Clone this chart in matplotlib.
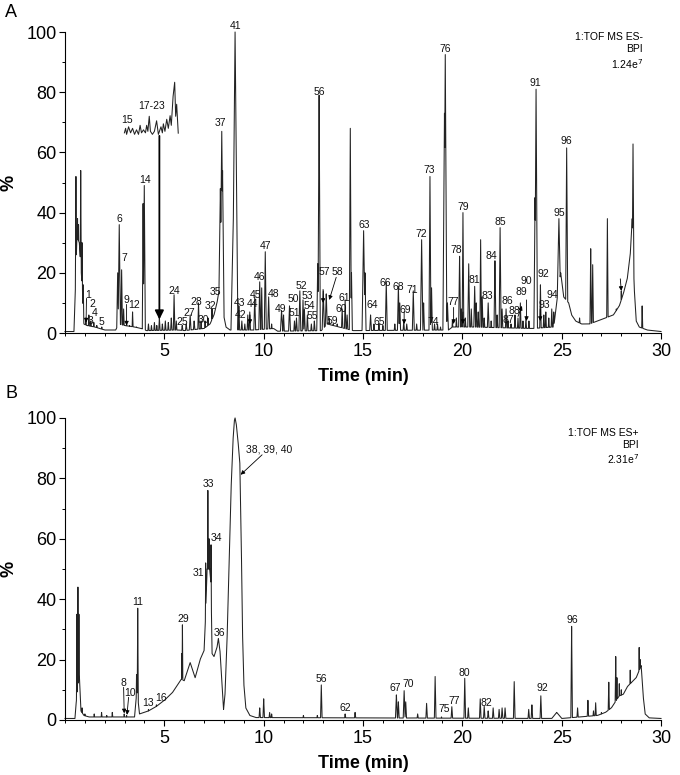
import numpy as np
import matplotlib
matplotlib.use('Agg')
import matplotlib.pyplot as plt
from matplotlib.ticker import MultipleLocator

plt.rcParams['font.family'] = ['Liberation Sans', 'DejaVu Sans']

# ---------------- panel A (ES-) ----------------
# slow background / broad features of the trace
base_t_a = [0, 0.45, 0.5, 0.6, 0.72, 0.88, 0.95, 1.1, 1.5, 2.0,
            2.55, 2.7, 3.0, 3.5, 3.85, 4.1, 5.7, 6.0, 7.0, 7.3,
            7.5, 7.65, 7.75, 8.1, 8.3, 8.8, 9.5, 10.5, 10.7, 12.9,
            13.2, 14.5, 19.3, 19.5, 20.5, 23.5, 24.6, 24.75, 24.95, 25.1,
            25.35, 25.5, 25.7, 26.0, 26.4, 26.8, 27.2, 27.6, 27.9, 28.1,
            28.3, 28.45, 28.55, 28.65, 28.75, 28.9, 29.3, 30]
base_h_a = [0.5, 0.5, 10, 32, 30, 14, 3, 2.5, 2, 1,
            1, 3, 2.5, 2, 1.5, 0.8, 1, 0.8, 1.5, 3,
            6, 10, 14, 2, 1, 1, 1, 1.5, 0.6, 0.8,
            3, 0.8, 1, 2, 2, 1.5, 2, 10, 20, 12,
            10, 6, 4, 3, 3, 4, 5, 6, 9, 13,
            18, 26, 38, 15, 4, 2, 1, 0.5]

# peaks: retention time (min), height (%), half width (min)
peak_t_a = [0.55, 0.63, 0.68, 0.79, 0.86, 0.92, 1.05, 1.2, 1.3, 1.45,
            1.6, 1.85, 2.65, 2.73, 2.85, 2.95, 3.1, 3.25, 3.4, 3.6,
            3.93, 3.99, 4.2, 4.35, 4.5, 4.62, 4.75, 4.9, 5.05, 5.2,
            5.35, 5.49, 5.6, 5.9, 6.1, 6.3, 6.5, 6.72, 6.85, 7.05,
            7.2, 7.4, 7.82, 7.89, 7.93, 8.5, 8.56, 8.75, 8.9, 9.05,
            9.2, 9.3, 9.55, 9.8, 9.9, 10.08, 10.25, 10.4, 10.9, 11.0,
            11.3, 11.55, 11.65, 11.82, 11.98, 12.05, 12.2, 12.4, 12.55, 12.72,
            12.79, 13.0, 13.15, 13.3, 13.5, 13.7, 13.95, 14.1, 14.2, 14.36,
            14.42, 15.03, 15.1, 15.38, 15.55, 15.8, 16.0, 16.17, 16.6, 16.78,
            16.85, 17.05, 17.2, 17.53, 17.7, 17.95, 18.05, 18.37, 18.45, 18.6,
            18.75, 18.9, 19.1, 19.14, 19.25, 19.5, 19.7, 19.86, 19.95, 20.03,
            20.15, 20.32, 20.45, 20.62, 20.7, 20.8, 20.92, 21.0, 21.1, 21.3,
            21.45, 21.64, 21.75, 21.9, 22.0, 22.2, 22.3, 22.45, 22.65, 22.8,
            22.92, 23.05, 23.2, 23.35, 23.66, 23.71, 23.93, 24.1, 24.2, 24.35,
            24.5, 24.6, 24.86, 25.25, 25.9, 26.46, 26.56, 27.3, 27.75, 28.0,
            28.59, 29.05]
peak_h_a = [52, 38, 36, 54, 30, 16, 5, 6, 4, 3.5,
            2.5, 2, 20, 36, 21, 8, 3, 2.5, 7, 2,
            43, 49, 3, 2.5, 3.5, 2.5, 5, 3, 4, 3.5,
            5, 12.7, 4, 2.5, 3, 6, 4, 10, 4, 4,
            5, 8, 48, 67, 54, 45, 100, 9, 4, 3,
            6, 7, 12, 17, 15, 27, 12, 3, 7.5, 6,
            9, 4, 5, 14, 11, 8, 6, 3, 4, 23,
            79, 14, 13, 5, 3, 3, 8, 11, 6, 68,
            20, 34, 20, 6, 3, 3, 2.5, 17, 3, 15.6,
            10, 4, 3, 14, 3, 31, 10, 52, 15, 3,
            3, 2, 73, 92.5, 10, 4, 5, 25.5, 8, 40,
            5, 23, 8, 15.5, 10, 7, 31, 12, 5, 10,
            4, 24, 6, 35, 8, 8, 4, 3, 6, 5,
            10, 4, 5, 4, 45, 81, 16, 6, 7, 5,
            8, 7, 38, 61.5, 5, 28, 22.7, 38, 8, 14,
            62.8, 9]
peak_w_a = [.04, .03, .03, .04, .03, .03, .04, .04, .04, .04,
            .04, .05, .05, .06, .04, .04, .04, .04, .03, .04,
            .04, .05, .04, .04, .04, .04, .04, .04, .04, .04,
            .04, .04, .04, .05, .05, .05, .05, .04, .04, .04,
            .04, .04, .10, .10, .08, .15, .14, .04, .04, .04,
            .04, .04, .05, .05, .04, .05, .05, .04, .06, .04,
            .05, .04, .04, .05, .04, .04, .04, .04, .04, .05,
            .06, .06, .06, .05, .05, .05, .04, .04, .04, .05,
            .04, .08, .05, .05, .04, .04, .04, .05, .04, .05,
            .04, .04, .04, .05, .04, .06, .04, .05, .04, .04,
            .04, .04, .08, .08, .05, .04, .04, .05, .04, .04,
            .04, .05, .04, .05, .04, .04, .04, .04, .04, .05,
            .04, .05, .04, .05, .04, .04, .04, .04, .04, .04,
            .04, .04, .04, .04, .06, .07, .04, .04, .04, .04,
            .04, .04, .12, .06, .06, .04, .04, .04, .04, .04,
            .06, .03]

# magnified inset of 15, 17-23
inset_t = [2.99, 3.05, 3.1, 3.2, 3.3, 3.4, 3.5, 3.6, 3.7, 3.78,
           3.85, 3.95, 4.05, 4.11, 4.17, 4.24, 4.3, 4.4, 4.5, 4.61,
           4.7, 4.83, 4.9, 4.95, 5.03, 5.12, 5.2, 5.29, 5.35, 5.44,
           5.52, 5.57, 5.62, 5.7]
inset_h = [66.5, 68, 66, 68.5, 66.5, 68, 66, 67.5, 66, 69,
           66.5, 67.5, 66.5, 69, 67, 72, 67, 66, 67, 70.5,
           66, 68.5, 66.5, 69.5, 67, 71, 68, 72.2, 69, 78.6,
           83.3, 72, 76, 66.4]

labels_a = ['1', '2', '3', '4', '5', '6', '7', '9', '12', '14',
            '15', '17-23', '24', '25', '27', '28', '30', '32', '35', '37',
            '41', '42', '43', '44', '45', '46', '47', '48', '49', '50',
            '51', '52', '53', '54', '55', '56', '57', '58', '59', '60',
            '61', '63', '64', '65', '66', '68', '69', '71', '72', '73',
            '74', '76', '77', '78', '79', '81', '83', '84', '85', '86',
            '87', '88', '89', '90', '91', '92', '93', '94', '95', '96']
lab_t_a = [1.14, 1.38, 1.29, 1.51, 1.85, 2.73, 2.97, 3.1, 3.49, 4.01,
           3.1, 4.36, 5.49, 5.92, 6.26, 6.63, 6.96, 7.3, 7.55, 7.84,
           8.56, 8.84, 8.78, 9.43, 9.61, 9.78, 10.1, 10.49, 10.87, 11.49,
           11.53, 11.91, 12.2, 12.3, 12.47, 12.79, 13.04, 13.72, 13.47, 13.88,
           14.05, 15.07, 15.46, 15.8, 16.14, 16.76, 17.15, 17.49, 17.95, 18.34,
           18.51, 19.15, 19.56, 19.69, 20.03, 20.63, 21.27, 21.47, 21.9, 22.24,
           22.29, 22.61, 22.95, 23.2, 23.68, 24.07, 24.15, 24.53, 24.86, 25.25]
lab_h_a = [12.7, 9.7, 3.9, 6.6, 3.7, 38, 24.9, 11, 9.4, 50.7,
           70.9, 75.3, 14, 3.5, 6.6, 10.2, 4.4, 9.1, 13.6, 69.8,
           101.9, 6.1, 10, 9.7, 12.7, 18.6, 28.8, 13.1, 8, 11.3,
           6.6, 15.5, 12.2, 9.1, 5.5, 80, 20.2, 20.2, 3.9, 8,
           11.6, 35.8, 9.4, 3.5, 16.6, 15.3, 7.8, 14.4, 32.9, 54,
           3.5, 94.5, 10.3, 27.7, 41.9, 17.7, 12.2, 25.7, 36.9, 10.5,
           4.4, 7.4, 13.6, 17.4, 83, 19.7, 9.4, 12.7, 39.9, 63.9]

# arrows: (tail t, tail h, head t, head h)
arrows_a = [(1.08, 11.5, 1.06, 3.5), (3.1, 9.5, 3.1, 2.5), (9.31, 6, 9.31, 3),
            (12.99, 14.5, 12.99, 10), (13.65, 18.5, 13.3, 11), (17.07, 7, 17.07, 3),
            (19.56, 8.5, 19.56, 3), (20.03, 7, 20.03, 3), (22.8, 5.5, 23.0, 9),
            (23.23, 11, 23.23, 4), (23.92, 8, 23.92, 4), (27.95, 18, 28.0, 14)]

# ---------------- panel B (ES+) ----------------
base_t_b = [0, 0.5, 0.55, 0.72, 0.8, 0.95, 1.2, 3.5, 3.62, 3.75,
            4.2, 4.6, 5.0, 5.4, 5.7, 5.85, 6.0, 6.3, 6.55, 6.8,
            7.0, 7.05, 7.15, 7.28, 7.35, 7.4, 7.5, 7.65, 7.72, 7.8,
            7.98, 8.05, 8.15, 8.25, 8.35, 8.45, 8.52, 8.56, 8.62, 8.7,
            8.8, 8.87, 8.93, 9.0, 9.1, 9.3, 9.6, 24.5, 24.75, 25.0,
            26.8, 27.2, 27.5, 27.9, 28.1, 28.3, 28.6, 28.75, 29.0, 29.1,
            29.2, 29.4, 30]
base_h_b = [0.5, 0.5, 5, 15, 3, 1.5, 1, 1, 10, 2,
            3, 4.5, 6.5, 9, 12, 13.5, 13, 19, 14, 20,
            23, 30, 50, 50, 45, 22, 21, 24, 27, 23,
            3.5, 8, 25, 50, 75, 92, 99, 100, 98, 93,
            85, 60, 30, 12, 4, 1.5, 0.8, 0.5, 2.5, 0.5,
            1.5, 2.5, 4, 8, 8.5, 11, 13, 14, 18, 8,
            2, 0.7, 0.5]

peak_t_b = [0.6, 0.65, 0.7, 0.86, 1.0, 1.47, 1.84, 2.1, 2.38, 2.98,
            3.1, 3.6, 3.66, 4.2, 4.6, 5.88, 5.91, 7.08, 7.19, 7.25,
            7.35, 9.8, 10.0, 10.3, 10.4, 12.0, 12.7, 12.9, 14.1, 14.6,
            16.68, 16.78, 17.07, 17.15, 17.75, 18.2, 18.63, 18.95, 19.47, 20.12,
            20.3, 20.9, 21.1, 21.3, 21.55, 21.85, 22.0, 22.15, 22.61, 23.34,
            23.5, 23.95, 25.5, 25.8, 26.32, 26.6, 26.71, 27.0, 27.37, 27.72,
            27.78, 27.9, 28.0, 28.45, 28.9, 28.95]
peak_h_b = [35, 44, 35, 4, 2, 2, 2.5, 1.5, 2.5, 2,
            1.5, 15, 37, 3.5, 5, 22, 31.5, 52, 76, 60,
            58, 4, 7, 2.5, 2, 1.5, 1.5, 11.6, 2, 2.5,
            8.3, 6, 9.7, 6, 2, 5.5, 14.4, 1, 4.4, 13.8,
            4, 7, 4.5, 3, 4, 3.5, 4, 4, 12.7, 3.5,
            5, 8, 31, 4, 6.5, 3, 5.7, 2.5, 12.5, 21,
            14, 12, 10, 16.5, 24, 20]
peak_w_b = [.03, .03, .03, .03, .03, .03, .03, .03, .03, .03,
            .03, .03, .03, .03, .03, .03, .03, .04, .05, .03,
            .04, .04, .04, .04, .04, .04, .04, .04, .04, .04,
            .05, .04, .05, .04, .04, .04, .04, .04, .04, .04,
            .04, .04, .04, .04, .04, .04, .04, .04, .04, .04,
            .04, .04, .04, .04, .04, .04, .04, .04, .04, .04,
            .04, .04, .04, .06, .05, .04]

labels_b = ['8', '10', '11', '13', '16', '29', '31', '33', '34', '36',
            '38, 39, 40', '56', '62', '67', '70', '75', '77', '80', '82', '92',
            '96']
lab_t_b = [2.93, 3.29, 3.66, 4.17, 4.82, 5.94, 6.74, 7.22, 7.63, 7.76,
           10.25, 12.9, 14.1, 16.64, 17.29, 19.07, 19.58, 20.08, 21.22, 24.02,
           25.51]
lab_h_b = [12.2, 8.8, 39.2, 5.7, 7.2, 33.4, 48.6, 78.2, 60.2, 28.7,
           89.5, 13.5, 3.9, 10.5, 11.9, 3.6, 6.3, 15.7, 5.7, 10.5,
           33.1]

arrows_b = [(9.92, 87.8, 8.84, 81.2), (2.95, 10.8, 2.98, 2.2), (3.2, 7.5, 3.12, 1.7)]


def build_trace(grid, bt, bh, pt, ph, pw):  # background plus triangular spikes
    y = np.interp(grid, bt, bh)
    for t, h, w in zip(pt, ph, pw):
        y = np.maximum(y, h * np.clip(1 - np.abs(grid - t) / w, 0, None))
    return y


def style_axes(ax):
    ax.set_xlim(0, 30)
    ax.set_ylim(0, 100)
    ax.spines['top'].set_visible(False)
    ax.spines['right'].set_visible(False)
    ax.set_xticks([5, 10, 15, 20, 25, 30])
    ax.xaxis.set_minor_locator(MultipleLocator(1))
    ax.set_yticks([0, 20, 40, 60, 80, 100])
    ax.yaxis.set_minor_locator(MultipleLocator(10))
    ax.tick_params(which='major', length=4, width=0.8, labelsize=13, direction='out')
    ax.tick_params(which='minor', length=2.5, width=0.7, direction='out')
    ax.tick_params(axis='x', pad=3)
    ax.tick_params(axis='y', pad=2)


fig = plt.figure(figsize=(6.8, 7.75), dpi=100)
ax_a = fig.add_axes([0.0956, 0.5703, 0.8765, 0.3884])
ax_b = fig.add_axes([0.0956, 0.0710, 0.8765, 0.3897])

grid = np.linspace(0, 30, 9001)
line_color = '#222222'

ax_a.plot(grid, build_trace(grid, base_t_a, base_h_a, peak_t_a, peak_h_a, peak_w_a),
          color=line_color, lw=0.75, clip_on=False)
ax_a.plot(inset_t, inset_h, color=line_color, lw=0.75)
ax_b.plot(grid, build_trace(grid, base_t_b, base_h_b, peak_t_b, peak_h_b, peak_w_b),
          color=line_color, lw=0.75, clip_on=False)

for ax, labs, lt, lh in [(ax_a, labels_a, lab_t_a, lab_h_a), (ax_b, labels_b, lab_t_b, lab_h_b)]:
    for s, t, h in zip(labs, lt, lh):
        ax.text(t, h, s, fontsize=7.5, ha='center', va='center', color='#111111')

for ax, arrs in [(ax_a, arrows_a), (ax_b, arrows_b)]:
    for x0, y0, x1, y1 in arrs:
        ax.annotate('', xy=(x1, y1), xytext=(x0, y0),
                    arrowprops=dict(arrowstyle='-|>', color='black', lw=0.6,
                                    mutation_scale=6, shrinkA=0, shrinkB=0))

# big arrow from the inset down to the 17-23 region
ax_a.annotate('', xy=(4.75, 4.5), xytext=(4.75, 65.5),
              arrowprops=dict(arrowstyle='-|>', color='black', lw=1.3,
                              mutation_scale=13, shrinkA=0, shrinkB=0))

ax_a.text(0.97, 1.0, '1:TOF MS ES-\nBPI\n1.24e$^7$', transform=ax_a.transAxes,
          ha='right', va='top', fontsize=7.5, linespacing=1.25)
ax_b.text(0.963, 0.968, '1:TOF MS ES+\nBPI\n2.31e$^7$', transform=ax_b.transAxes,
          ha='right', va='top', fontsize=7.5, linespacing=1.25)

for ax in (ax_a, ax_b):
    style_axes(ax)
    ax.set_ylabel('%', fontsize=13, fontweight='bold')
    ax.yaxis.set_label_coords(-0.08, 0.5)
    ax.set_xlabel('Time (min)', fontsize=13, fontweight='bold', labelpad=6)

fig.text(0.008, 0.984, 'A', fontsize=13, va='center')
fig.text(0.008, 0.492, 'B', fontsize=13, va='center')

fig.savefig('out.png', dpi=100)
